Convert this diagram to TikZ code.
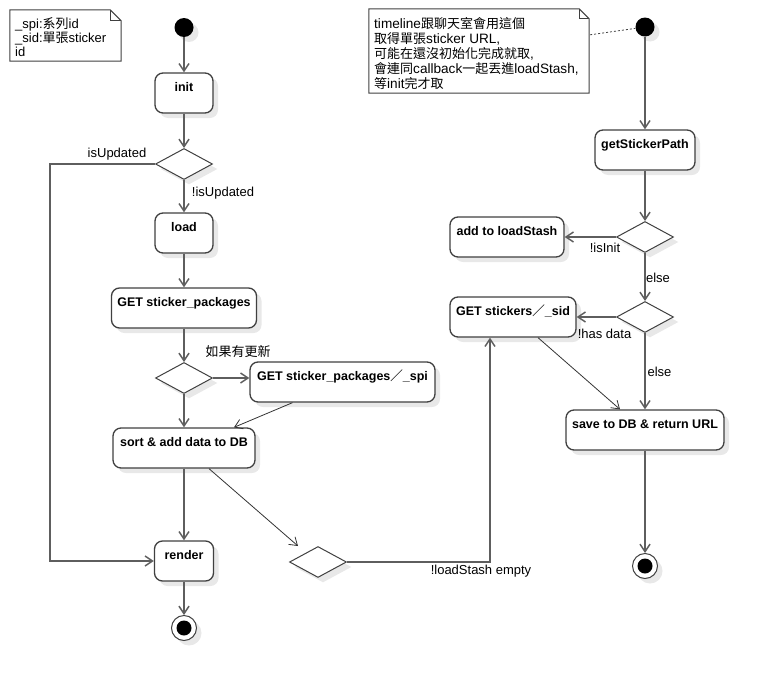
\documentclass[tikz,border=0pt]{standalone}
\usepackage{fontspec}
\setmainfont{Liberation Sans}
\newfontfamily\cjk{Noto Sans CJK TC}
\usetikzlibrary{arrows.meta,shapes.geometric,shadows,calc}

% CJK runs inside Latin text, kept at 13pt
\newcommand\cjrun[1]{{\cjk\fontsize{13}{15.5}\selectfont #1}}

\definecolor{boxline}{HTML}{404040}
\definecolor{wire}{HTML}{5E5E5E}
\definecolor{shade}{HTML}{E8E8E8}

\tikzset{
  softshadow/.style={drop shadow={shadow xshift=5pt, shadow yshift=-5pt, fill=shade, opacity=1}},
  act/.style={draw=boxline, line width=1.3pt, rounded corners=8pt, fill=white,
    inner sep=0pt, text height=18pt, text depth=22pt, softshadow,
    font=\bfseries\fontsize{12.5}{15}\selectfont},
  dec/.style={diamond, draw=boxline, line width=1pt, fill=white,
    minimum width=57pt, minimum height=31pt, inner sep=0pt, softshadow},
  startdot/.style={circle, fill=black, minimum size=19pt, inner sep=0pt, softshadow},
  enddot/.style={circle, draw=boxline, line width=1pt, fill=white, minimum size=25pt,
    inner sep=0pt, softshadow,
    path picture={\fill[black] (path picture bounding box.center) circle (7.5pt);}},
  flow/.style={draw=wire, line width=1.5pt, -{Straight Barb[length=7.5pt,width=10pt]}},
  slimflow/.style={draw=black!80, line width=0.8pt, -{Straight Barb[length=7.5pt,width=10pt]}},
  guard/.style={font=\fontsize{13}{15}\selectfont, inner sep=0pt},
  notebox/.style={draw=none, fill=white, inner sep=0pt},
  noteline/.style={draw=boxline, line width=1pt},
  notetext/.style={font=\fontsize{13}{14}\selectfont, align=left, inner sep=0pt, anchor=north west},
}

\begin{document}
\begin{tikzpicture}[x=1pt, y=-1pt]
\useasboundingbox (0,0) rectangle (765,680);

% ---------- notes ----------
\node[notebox, minimum width=111pt, minimum height=51pt] (n1) at (65.5,35.5) {};
\draw[noteline] (n1.south west) -- (n1.north west) -- ($(n1.north east)+(-11,0)$)
  -- ($(n1.north east)+(0,11)$) -- (n1.south east) -- cycle;
\draw[noteline] ($(n1.north east)+(-11,0)$) -- ($(n1.north east)+(-11,11)$) -- ($(n1.north east)+(0,11)$);
\node[notetext] (n1t) at (15,17.5) {\_spi:\cjrun{系列}id\\\_sid:\cjrun{單張}sticker\\id};

\node[notebox, minimum width=220pt, minimum height=84pt] (n2) at (479,51) {};
\draw[noteline] (n2.south west) -- (n2.north west) -- ($(n2.north east)+(-10,0)$)
  -- ($(n2.north east)+(0,10)$) -- (n2.south east) -- cycle;
\draw[noteline] ($(n2.north east)+(-10,0)$) -- ($(n2.north east)+(-10,10)$) -- ($(n2.north east)+(0,10)$);
\node[notetext, font=\fontsize{13.6}{15}\selectfont] (n2t) at (374,17.5)
  {timeline\cjrun{跟聊天室會用這個}\\
   \cjrun{取得單張}sticker URL,\\
   \cjrun{可能在還沒初始化完成就取},\\
   \cjrun{會連同}callback\cjrun{一起丟進}loadStash,\\
   \cjrun{等}init\cjrun{完才取}};

% ---------- left flow ----------
\node[startdot] (s1) at (184,27.5) {};
\node[act, minimum width=58pt] (init) at (184,93) {init};
\node[dec] (d1) at (184,164) {};
\node[act, minimum width=58pt] (load) at (184,233) {load};
\node[act, minimum width=145pt] (gsp) at (184,308) {GET sticker\_packages};
\node[dec] (d2) at (184,378) {};
\node[act, minimum width=185pt] (gspi) at (342.5,382) {GET sticker\_packages{\cjk ／}\_spi};
\node[act, minimum width=142pt] (sort) at (184,448) {sort \& add data to DB};
\node[act, minimum width=59pt] (render) at (184,561) {render};
\node[enddot] (e1) at (184,628) {};
\node[dec] (d3) at (318,562) {};
\coordinate (lft) at (50,300);

% ---------- right flow ----------
\node[startdot] (s2) at (645,27) {};
\node[act, minimum width=100pt] (gsp2) at (645,150) {getStickerPath};
\node[dec] (d4) at (645,237) {};
\node[act, minimum width=114pt] (stash) at (507,237) {add to loadStash};
\node[dec] (d5) at (645,317) {};
\node[act, minimum width=126pt] (gstk) at (513,317) {GET stickers{\cjk ／}\_sid};
\node[act, minimum width=158pt] (save) at (645,430) {save to DB \& return URL};
\node[enddot] (e2) at (645,566) {};

% ---------- connectors, left ----------
\draw[flow] (s1) -- (init);
\draw[flow] (init) -- (d1);
\draw[flow] (d1.west) -| (lft) |- (render.west);
\draw[flow] (d1) -- (load);
\draw[flow] (load) -- (gsp);
\draw[flow] (gsp) -- (d2);
\draw[flow] (d2.east) -- (gspi.west |- d2.east);
\draw[flow] (d2) -- (sort);
\draw[slimflow] ($(gspi.south)+(-50,0)$) -- ($(sort.north)+(50,0)$);
\draw[flow] (sort) -- (render);
\draw[slimflow] ($(sort.south)+(25,0)$) -- ($(d3.north)+(-20,0)$);
\draw[flow] (d3.east) -| ($(gstk.south)+(-23,0)$);
\draw[flow] (render) -- (e1);

% ---------- connectors, right ----------
\draw[draw=black!75, line width=0.8pt, dash pattern=on 2pt off 2pt] ($(n2.north east)+(1,26)$) -- (s2);
\draw[flow] (s2) -- (gsp2);
\draw[flow] (gsp2) -- (d4);
\draw[flow] (d4.west) -- (stash.east);
\draw[flow] (d4) -- (d5);
\draw[flow] (d5.west) -- (gstk.east);
\draw[flow] (d5) -- (save);
\draw[slimflow] ($(gstk.south)+(25,0)$) -- ($(save.north)+(-25,0)$);
\draw[flow] (save) -- (e2);

% ---------- guards ----------
\node[guard] (g1) at (117,154) {isUpdated};
\node[guard] (g2) at (223,193) {!isUpdated};
\node[guard] (g3) at (238,352) {\cjrun{如果有更新}};
\node[guard] (g4) at (481,571) {!loadStash empty};
\node[guard] (g5) at (605,248) {!isInit};
\node[guard] (g6) at (658,278) {else};
\node[guard] (g7) at (604.5,334) {!has data};
\node[guard] (g8) at (659.5,372) {else};
\end{tikzpicture}
\end{document}
